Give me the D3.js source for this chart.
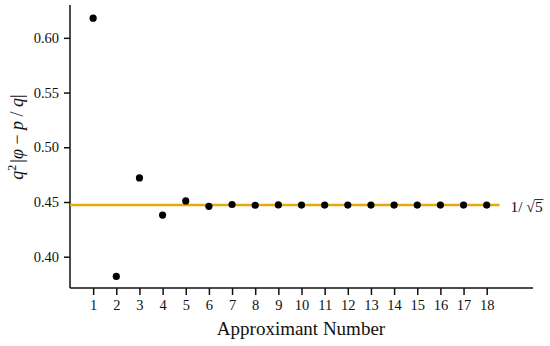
<!DOCTYPE html>
<html>
<head>
<meta charset="utf-8">
<script src="https://cdn.jsdelivr.net/npm/d3@7"></script>
<style>
	body { margin: 0; background: #fff; }
	text { font-family: "Liberation Serif", "DejaVu Serif", serif; fill: #111; }
</style>
</head>
<body>
<svg width="550" height="346"></svg>
<script>
// approximant index and q^2 |phi - p/q|
var approximants = d3.range(1, 19);
var values = [0.618, 0.382, 0.472, 0.438, 0.451, 0.446, 0.4477, 0.4470, 0.4473,
	0.4472, 0.4472, 0.4472, 0.4472, 0.4472, 0.4472, 0.4472, 0.4472, 0.4472];
var limitValue = 0.4472; // 1/sqrt(5)
var yTicks = [0.40, 0.45, 0.50, 0.55, 0.60];

var svg = d3.select("svg");

var x = d3.scaleLinear()
		.domain([0, 20])
		.range([70, 533]);

var y = d3.scaleLinear()
		.domain([0.3714, 0.630])
		.range([288, 5]);

// x axis
var gx = svg.append("g")
		.attr("transform", "translate(0,288)")
		.call(d3.axisBottom(x).tickValues(approximants).tickSize(7).tickPadding(5).tickFormat(d3.format("d")));
gx.selectAll("text").style("font-size", "14.5px");

// y axis
var gy = svg.append("g")
		.attr("transform", "translate(70,0)")
		.call(d3.axisLeft(y).tickValues(yTicks).tickSize(6).tickPadding(5).tickFormat(d3.format(".2f")));
gy.selectAll("text").style("font-size", "14.5px");

svg.selectAll(".domain, .tick line")
		.attr("stroke", "#111")
		.attr("stroke-width", 1.5);
// plain axis lines without end caps
gx.select(".domain").attr("d", "M70,0H533");
gy.select(".domain").attr("d", "M0,5V288");

// limit line
svg.append("line")
		.attr("x1", x(0))
		.attr("x2", x(18.55))
		.attr("y1", y(limitValue))
		.attr("y2", y(limitValue))
		.attr("stroke", "#e8a90c")
		.attr("stroke-width", 2.5);

var lim = svg.append("text")
		.attr("x", x(18.55) + 11)
		.attr("y", y(limitValue) + 7)
		.style("font-size", "15.5px");
lim.append("tspan").text("1/ \u221A");
var five = lim.append("tspan").text("5");

// vinculum over the 5
var bb = five.node().getBBox();
svg.append("line")
		.attr("x1", bb.x - 0.5)
		.attr("x2", bb.x + bb.width + 0.5)
		.attr("y1", bb.y + 1.5)
		.attr("y2", bb.y + 1.5)
		.attr("stroke", "#111")
		.attr("stroke-width", 0.9);

// points
svg.append("g")
	.selectAll("circle")
	.data(values)
	.enter().append("circle")
		.attr("cx", function(d, i) { return x(approximants[i]); })
		.attr("cy", function(d) { return y(d); })
		.attr("r", 3.6)
		.attr("fill", "#000");

// axis labels
svg.append("text")
		.attr("x", 301)
		.attr("y", 335)
		.attr("text-anchor", "middle")
		.style("font-size", "19px")
		.text("Approximant Number");

svg.append("text")
		.attr("transform", "translate(23,137) rotate(-90)")
		.attr("text-anchor", "middle")
		.style("font-size", "18px")
		.style("font-style", "italic")
		.html("q<tspan dy=\"-7\" font-size=\"12px\" font-style=\"normal\">2</tspan><tspan dy=\"7\" dx=\"2\" font-style=\"normal\">|</tspan>\u03C6 <tspan font-style=\"normal\">\u2212</tspan> p<tspan font-style=\"normal\"> / </tspan>q<tspan font-style=\"normal\">|</tspan>");
</script>
</body>
</html>
